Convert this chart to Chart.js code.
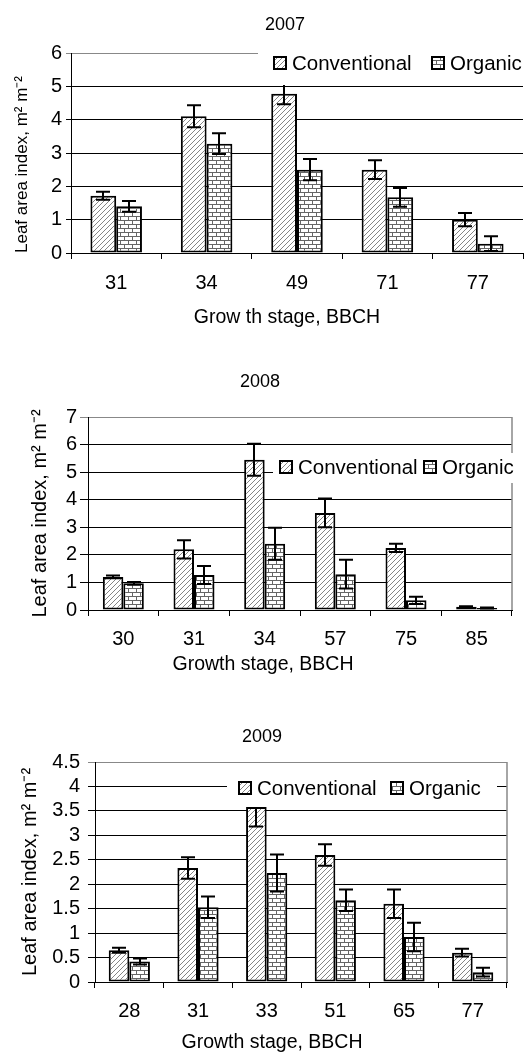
<!DOCTYPE html>
<html>
<head>
<meta charset="utf-8">
<script src="https://cdn.jsdelivr.net/npm/chart.js@4.4.1/dist/chart.umd.min.js"></script>
<style>
  html, body { margin: 0; padding: 0; background: #fff; }
  #wrap { position: relative; width: 524px; height: 1054px; }
  canvas { position: absolute; left: 0; }
</style>
</head>
<body>
<div id="wrap">
  <canvas id="c2007" width="524" height="335" style="top:0px"></canvas>
  <canvas id="c2008" width="524" height="340" style="top:340px"></canvas>
  <canvas id="c2009" width="524" height="364" style="top:690px"></canvas>
</div>
<script>
// Series names
const seriesNames = ["Conventional", "Organic"];

// 2007
const stages2007 = ["31", "34", "49", "71", "77"];
const conv2007 = [1.72, 4.1, 4.78, 2.5, 1.0];
const org2007 = [1.4, 3.28, 2.5, 1.67, 0.28];
const convErr2007 = [0.12, 0.33, 0.32, 0.28, 0.2];
const orgErr2007 = [0.16, 0.31, 0.32, 0.28, 0.22];

// 2008
const stages2008 = ["30", "31", "34", "57", "75", "85"];
const conv2008 = [1.2, 2.2, 5.45, 3.52, 2.25, 0.12];
const org2008 = [0.97, 1.27, 2.4, 1.3, 0.35, 0.07];
const convErr2008 = [0.05, 0.33, 0.58, 0.52, 0.15, 0.02];
const orgErr2008 = [0.05, 0.33, 0.58, 0.52, 0.13, 0.02];

// 2009
const stages2009 = ["28", "31", "33", "51", "65", "77"];
const conv2009 = [0.65, 2.33, 3.58, 2.6, 1.6, 0.6];
const org2009 = [0.42, 1.53, 2.23, 1.67, 0.92, 0.2];
const convErr2009 = [0.05, 0.22, 0.4, 0.22, 0.29, 0.08];
const orgErr2009 = [0.06, 0.22, 0.38, 0.22, 0.29, 0.09];

// y axis ranges
const yMax = { 2007: 6, 2008: 7, 2009: 4.5 };
const yStep = { 2007: 1, 2008: 1, 2009: 0.5 };

const yTitle = "Leaf area index, m\u00B2 m\u207B\u00B2";
const FONT = '"Liberation Sans", Arial, sans-serif';

Chart.defaults.font.family = FONT;
Chart.defaults.color = "#000";

function hatchPattern(ctx) {
  const c = document.createElement("canvas");
  c.width = 5; c.height = 5;
  const g = c.getContext("2d");
  g.fillStyle = "#fff";
  g.fillRect(0, 0, 5, 5);
  g.strokeStyle = "#777";
  g.lineWidth = 0.9;
  g.beginPath();
  g.moveTo(0, 5); g.lineTo(5, 0);
  g.moveTo(-1, 1); g.lineTo(1, -1);
  g.moveTo(4, 6); g.lineTo(6, 4);
  g.stroke();
  return ctx.createPattern(c, "repeat");
}

function brickPattern(ctx) {
  const c = document.createElement("canvas");
  c.width = 8; c.height = 8;
  const g = c.getContext("2d");
  g.fillStyle = "#fff";
  g.fillRect(0, 0, 8, 8);
  g.strokeStyle = "#666";
  g.lineWidth = 1;
  g.beginPath();
  g.moveTo(0, 0.5); g.lineTo(8, 0.5);
  g.moveTo(0.5, 0); g.lineTo(0.5, 4);
  g.moveTo(0, 4.5); g.lineTo(8, 4.5);
  g.moveTo(4.5, 4); g.lineTo(4.5, 8);
  g.stroke();
  return ctx.createPattern(c, "repeat");
}

// error bars on top of the bars
const errorBarPlugin = {
  id: "errorBars",
  afterDatasetsDraw(chart) {
    const ctx = chart.ctx;
    const y = chart.scales.y;
    ctx.save();
    ctx.strokeStyle = "#000";
    ctx.lineWidth = 2;
    chart.data.datasets.forEach((ds, i) => {
      const meta = chart.getDatasetMeta(i);
      meta.data.forEach((bar, j) => {
        const v = ds.data[j];
        const e = ds.errorBars[j];
        const top = y.getPixelForValue(v + e);
        const bot = y.getPixelForValue(Math.max(v - e, 0));
        const x = Math.round(bar.x);
        ctx.beginPath();
        ctx.moveTo(x, top); ctx.lineTo(x, bot);
        ctx.moveTo(x - 7, top); ctx.lineTo(x + 7, top);
        ctx.moveTo(x - 7, bot); ctx.lineTo(x + 7, bot);
        ctx.stroke();
      });
    });
    ctx.restore();
  },
};

// right frame line (charts 2 and 3)
const framePlugin = {
  id: "frame",
  beforeDatasetsDraw(chart, args, opts) {
    if (!opts.show) return;
    const a = chart.chartArea;
    const ctx = chart.ctx;
    ctx.save();
    ctx.strokeStyle = "#888";
    ctx.lineWidth = 1.5;
    ctx.beginPath();
    ctx.moveTo(a.right, a.top);
    ctx.lineTo(a.right, a.bottom);
    ctx.stroke();
    ctx.restore();
  },
};

// chart title and x axis title, placed where the original has them
const textPlugin = {
  id: "texts",
  afterDraw(chart, args, opts) {
    const ctx = chart.ctx;
    ctx.save();
    ctx.fillStyle = "#000";
    ctx.textAlign = "center";
    ctx.textBaseline = "middle";
    ctx.font = "18px " + FONT;
    ctx.fillText(opts.title, opts.titleX, opts.titleY);
    ctx.font = "19.5px " + FONT;
    ctx.fillText(opts.xTitle, opts.xTitleX, opts.xTitleY);
    ctx.restore();
  },
};

// legend drawn over the plot with a white box
const boxLegendPlugin = {
  id: "boxLegend",
  afterDraw(chart, args, opts) {
    const ctx = chart.ctx;
    const b = opts.box;
    ctx.save();
    ctx.fillStyle = "#fff";
    ctx.fillRect(b[0], b[1], b[2], b[3]);
    ctx.font = "20.5px " + FONT;
    ctx.textBaseline = "middle";
    ctx.textAlign = "left";
    chart.data.datasets.forEach((ds, i) => {
      const x = opts.items[i];
      const y = opts.y;
      ctx.fillStyle = ds.backgroundColor;
      ctx.fillRect(x, y - 6, 12, 12);
      ctx.strokeStyle = "#000";
      ctx.lineWidth = 2;
      ctx.strokeRect(x, y - 6, 12, 12);
      ctx.fillStyle = "#000";
      ctx.fillText(ds.label, x + 18, y + 1);
    });
    ctx.restore();
  },
};

function makeChart(id, year, labels, conv, org, convErr, orgErr, lay) {
  const canvas = document.getElementById(id);
  const ctx = canvas.getContext("2d");
  const H = canvas.height;
  const max = yMax[year];
  return new Chart(ctx, {
    type: "bar",
    data: {
      labels: labels,
      datasets: [
        {
          label: seriesNames[0],
          data: conv,
          errorBars: convErr,
          backgroundColor: hatchPattern(ctx),
          borderColor: "#000",
          borderWidth: 2,
          borderSkipped: false,
        },
        {
          label: seriesNames[1],
          data: org,
          errorBars: orgErr,
          backgroundColor: brickPattern(ctx),
          borderColor: "#000",
          borderWidth: 2,
          borderSkipped: false,
        },
      ],
    },
    options: {
      responsive: false,
      animation: false,
      events: [],
      layout: { padding: { left: 0, right: lay.padRight, top: lay.top, bottom: 0 } },
      datasets: {
        bar: { categoryPercentage: lay.catPct, barPercentage: 1 },
      },
      plugins: {
        legend: { display: false },
        tooltip: { enabled: false },
        title: { display: false },
        frame: { show: lay.frame },
        texts: {
          title: String(year), titleX: lay.titleX, titleY: lay.titleY,
          xTitle: lay.xTitle, xTitleX: lay.xTitleX, xTitleY: lay.xTitleY,
        },
        boxLegend: { box: lay.legendBox, items: lay.legendX, y: lay.legendY },
      },
      scales: {
        x: {
          afterFit: (s) => { s.height = H - lay.bottom; },
          grid: {
            offset: true,
            drawOnChartArea: false,
            drawTicks: true,
            tickLength: 6,
            color: "#000",
          },
          border: { display: true, color: "#000", width: 1 },
          ticks: { font: { size: 20 }, color: "#000", padding: lay.xTickPad },
        },
        y: {
          min: 0,
          max: max,
          afterFit: (s) => { s.width = lay.left; },
          grid: {
            color: (c) => (c.tick && c.tick.value === max ? "#888" : "#000"),
            lineWidth: 1,
            tickLength: lay.yTick,
            drawTicks: true,
          },
          border: { display: true, color: "#000", width: 1 },
          ticks: {
            stepSize: yStep[year],
            autoSkip: false,
            font: { size: 20 },
            color: "#000",
            padding: lay.yTickPad,
            callback: (v) => String(v),
          },
          title: {
            display: true,
            text: yTitle,
            font: { size: lay.yTitleSize },
            color: "#000",
            align: lay.yTitleAlign,
            padding: { top: lay.yTitleX - lay.yTitleSize * 0.6, bottom: 0 },
          },
        },
      },
    },
    plugins: [errorBarPlugin, framePlugin, textPlugin, boxLegendPlugin],
  });
}

makeChart("c2007", 2007, stages2007, conv2007, org2007, convErr2007, orgErr2007, {
  left: 71, top: 53, bottom: 253, padRight: 1, catPct: 0.57,
  titleX: 285, titleY: 25, xTitle: "Grow th stage, BBCH", xTitleX: 287, xTitleY: 318,
  xTickPad: 12, yTick: 5, yTickPad: 4, yTitleSize: 17, yTitleX: 22, yTitleAlign: "start",
  frame: false, legendBox: [258, 44, 266, 41], legendX: [274, 432], legendY: 63,
});

makeChart("c2008", 2008, stages2008, conv2008, org2008, convErr2008, orgErr2008, {
  left: 88, top: 77, bottom: 270, padRight: 12, catPct: 0.58,
  titleX: 260, titleY: 42, xTitle: "Growth stage, BBCH", xTitleX: 263, xTitleY: 325,
  xTickPad: 11, yTick: 8, yTickPad: 3, yTitleSize: 20, yTitleX: 40, yTitleAlign: "center",
  frame: true, legendBox: [273, 113, 251, 30], legendX: [280, 424], legendY: 127,
});

makeChart("c2009", 2009, stages2009, conv2009, org2009, convErr2009, orgErr2009, {
  left: 95, top: 72, bottom: 292, padRight: 17, catPct: 0.6,
  titleX: 262, titleY: 47, xTitle: "Growth stage, BBCH", xTitleX: 272, xTitleY: 353,
  xTickPad: 11, yTick: 7, yTickPad: 8, yTitleSize: 20, yTitleX: 30, yTitleAlign: "center",
  frame: true, legendBox: [227, 80, 270, 37], legendX: [239, 391], legendY: 98,
});
</script>
</body>
</html>
